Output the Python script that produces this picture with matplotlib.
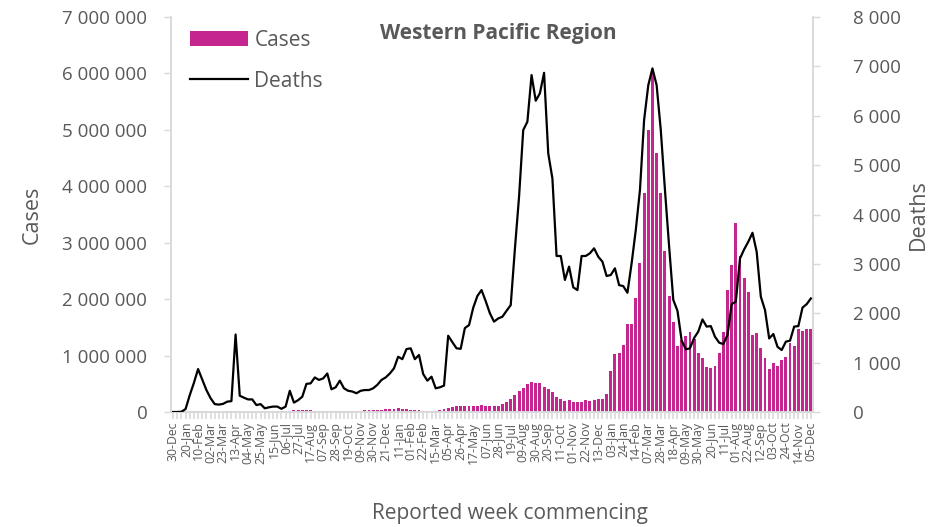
import numpy as np
import matplotlib.pyplot as plt
from matplotlib.ticker import FuncFormatter, MultipleLocator

plt.rcParams['font.family'] = ['Open Sans', 'DejaVu Sans']

# weekly values, week commencing 30-Dec-2019 .. 05-Dec-2022 (154 weeks)
cases = [
    0, 0, 100, 2000, 10000, 20000, 22000, 15000, 5000, 3000,
    4000, 6000, 8000, 10000, 12000, 10000, 8000, 6000, 5000, 4000,
    4000, 5000, 5000, 6000, 7000, 9000, 12000, 15000, 22000, 28000,
    32000, 35000, 33000, 30000, 26000, 22000, 20000, 19000, 18000, 17000,
    17000, 17000, 18000, 20000, 23000, 26000, 30000, 33000, 37000, 40000,
    43000, 45000, 47000, 59000, 65000, 59000, 47000, 41000, 33000, 27000,
    24000, 22000, 22000, 24000, 30000, 47000, 71000, 89000, 100000, 112000,
    112000, 112000, 112000, 112000, 124000, 112000, 106000, 106000, 112000, 136000,
    183000, 230000, 301000, 372000, 419000, 496000, 538000, 520000, 508000, 449000,
    402000, 360000, 272000, 230000, 195000, 213000, 177000, 177000, 177000, 213000,
    195000, 213000, 230000, 230000, 319000, 727000, 1028000, 1045000, 1187000, 1559000,
    1559000, 2014000, 2646000, 3875000, 4997000, 6000000, 4584000, 3875000, 2859000, 2056000,
    1600000, 1175000, 1276000, 1353000, 1424000, 1288000, 1040000, 950000, 800000, 775000,
    815000, 1040000, 1410000, 2160000, 2600000, 3350000, 2770000, 2370000, 2130000, 1360000,
    1405000, 1130000, 950000, 760000, 875000, 815000, 920000, 970000, 1230000, 1175000,
    1465000, 1440000, 1470000, 1470000,
]

deaths = [
    0, 0, 5, 60, 340, 590, 870, 660, 445, 280,
    160, 150, 165, 210, 220, 1570, 330, 290, 255, 255,
    140, 160, 75, 95, 110, 110, 65, 110, 430, 190,
    240, 310, 570, 580, 700, 650, 680, 780, 460, 500,
    635, 480, 430, 415, 380, 430, 445, 445, 480, 550,
    650, 700, 780, 885, 1120, 1070, 1275, 1290, 1070, 1155,
    770, 635, 715, 480, 500, 535, 1545, 1415, 1290, 1280,
    1700, 1760, 2110, 2350, 2470, 2245, 2000, 1830, 1895, 1930,
    2050, 2165, 3300, 4360, 5710, 5880, 6825, 6305, 6455, 6870,
    5240, 4730, 3160, 3160, 2675, 2945, 2525, 2470, 3160, 3160,
    3215, 3315, 3145, 3045, 2755, 2775, 2910, 2570, 2550, 2415,
    3010, 3685, 4495, 5915, 6620, 6960, 6620, 5710, 4495, 3350,
    2270, 2050, 1450, 1270, 1290, 1500, 1630, 1875, 1730, 1740,
    1525, 1405, 1375, 1560, 2185, 2235, 3110, 3295, 3450, 3630,
    3245, 2335, 2065, 1490, 1580, 1320, 1255, 1425, 1445, 1730,
    1740, 2115, 2185, 2300,
]

# every third week is labelled
week_labels = [
    '30-Dec', '20-Jan', '10-Feb', '02-Mar', '23-Mar', '13-Apr', '04-May', '25-May',
    '15-Jun', '06-Jul', '27-Jul', '17-Aug', '07-Sep', '28-Sep', '19-Oct', '09-Nov',
    '30-Nov', '21-Dec', '11-Jan', '01-Feb', '22-Feb', '15-Mar', '05-Apr', '26-Apr',
    '17-May', '07-Jun', '28-Jun', '19-Jul', '09-Aug', '30-Aug', '20-Sep', '11-Oct',
    '01-Nov', '22-Nov', '13-Dec', '03-Jan', '24-Jan', '14-Feb', '07-Mar', '28-Mar',
    '18-Apr', '09-May', '30-May', '20-Jun', '11-Jul', '01-Aug', '22-Aug', '12-Sep',
    '03-Oct', '24-Oct', '14-Nov', '05-Dec',
]

grey = '#595959'
spine_col = '#D9D9D9'
magenta = '#C4258F'

fig = plt.figure(figsize=(9.42, 5.27), dpi=100)
ax = fig.add_axes([0.1815, 0.2182, 0.6815, 0.7495])
ax2 = ax.twinx()

x = np.arange(len(cases))
ax.bar(x, cases, width=0.7, color=magenta, label='Cases', zorder=2)
ax2.plot(x, deaths, color='black', lw=1.6, label='Deaths', zorder=3)

ax.set_xlim(-0.5, len(cases) - 0.5)
ax.set_ylim(0, 7000000)
ax2.set_ylim(0, 8000)
ax.yaxis.set_major_locator(MultipleLocator(1000000))
ax2.yaxis.set_major_locator(MultipleLocator(1000))

fmt = FuncFormatter(lambda v, p: f'{int(v):,}'.replace(',', ' '))
ax.yaxis.set_major_formatter(fmt)
ax2.yaxis.set_major_formatter(fmt)

ax.set_xticks(x[::3])
ax.set_xticklabels(week_labels, rotation=90, fontsize=8.8, color=grey)
ax.set_xticks(x, minor=True)
ax.tick_params(axis='x', which='both', length=5, width=1.2, color=spine_col, pad=2)

for a in (ax, ax2):
    for s in a.spines.values():
        s.set_color(spine_col)
        s.set_linewidth(1.2)
    a.spines['top'].set_visible(False)
    a.tick_params(axis='y', length=5, width=1, color=spine_col, labelsize=13.5,
                  labelcolor=grey)
ax.tick_params(axis='y', pad=12)
ax2.tick_params(axis='y', pad=24)

ax.set_ylabel('Cases', fontsize=15.5, color=grey, labelpad=14)
ax2.set_ylabel('Deaths', fontsize=15.5, color=grey, labelpad=5)
fig.text(510 / 942, 1 - 514 / 527, 'Reported week commencing', ha='center',
         va='center', fontsize=15, color=grey)

ax.text(0.51, 0.984, 'Western Pacific Region', transform=ax.transAxes, ha='center',
        va='top', fontsize=15, fontweight='bold', color=grey)

h1, l1 = ax.get_legend_handles_labels()
h2, l2 = ax2.get_legend_handles_labels()
leg = ax2.legend(h1 + h2, l1 + l2, loc='upper left', bbox_to_anchor=(0.0, 1.015),
                 frameon=False, fontsize=15, labelcolor=grey, handlelength=2.8,
                 handleheight=0.7, handletextpad=0.3, labelspacing=0.95)

fig.savefig('out.png', dpi=100)
